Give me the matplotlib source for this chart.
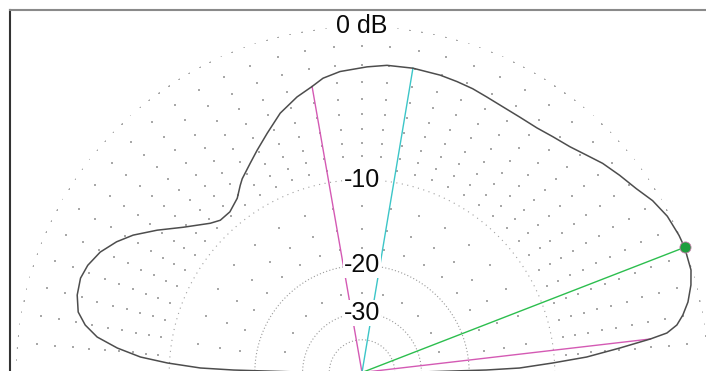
import numpy as np
import matplotlib.pyplot as plt

plt.rcParams['font.family'] = ['Liberation Sans', 'DejaVu Sans']

# elevation pattern: angle (deg) and gain (dB rel. max)
elev = [0, 0.5, 1.15, 1.63, 2.85, 3.94, 5.42, 6.63, 7.38, 8.58, 10.16, 12.2,
        14.9, 17.3, 21.2, 23.4, 27.1, 30.6, 33.84, 37.43, 41.0, 44.06, 47.35,
        51.0, 54.42, 58.3, 62.06, 65.67, 68.7, 71.9, 75.3, 80.5, 85.35, 89.06,
        94.18, 97.54, 99.9, 103.26, 107.5, 111.6, 115.26, 118.1, 121.73,
        123.05, 125.6, 129.43, 132.95, 135.47, 140.9, 145.2, 149.02, 151.96,
        155.3, 158.65, 161.47, 164.79, 167.97, 170.27, 172.37, 174.29, 176.0,
        177.2, 178.4, 178.9, 179.5, 180]
gain = [-99, -30, -17.47, -13.44, -10.18, -7.35, -4.96, -3.0, -2.02, -1.42,
        -1.02, -0.63, -0.28, -0.07, 0.0, -0.03, -0.15, -0.42, -0.80, -1.10,
        -1.40, -1.74, -2.05, -2.25, -2.40, -2.43, -2.40, -2.30, -2.18, -2.10,
        -2.02, -1.96, -1.98, -2.12, -2.34, -2.62, -3.0, -3.43, -4.12, -5.06,
        -5.85, -6.45, -7.15, -7.49, -8.19, -8.70, -8.70, -8.31, -6.96, -5.60,
        -4.44, -3.74, -3.13, -2.76, -2.62, -2.72, -3.01, -3.57, -4.42, -5.84,
        -7.58, -9.82, -13.0, -16.93, -28, -99]

max_elev, max_gain = 21.2, 0.0          # green cursor / max gain
bw_elev = [6.63, 99.9]                  # -3 dB beamwidth points
bw_gain = [-3.0, -3.0]
cur_elev, cur_gain = 80.5, -1.96        # cyan line

ring_text = ['0 dB', '-10', '-20', '-30']
ring_db = [0, -10, -20, -30]

R_MIN = -100


def arrl(db):
    # ARRL log scale: 0.89 per 2 dB
    return 0.89 ** (-np.asarray(db, dtype=float) / 2)


def arrl_inv(r):
    r = np.clip(np.asarray(r, dtype=float), 1e-12, None)
    return -2 * np.log(r) / np.log(0.89)


W, H = 706, 371
fig = plt.figure(figsize=(W / 100, H / 100), dpi=100)

# frame (only left and top edges are visible in the crop)
frame = fig.add_axes([10 / W, 0, 1 - 10 / W, 1 - 10 / H])
frame.set_xticks([])
frame.set_yticks([])
frame.spines['right'].set_visible(False)
frame.spines['bottom'].set_visible(False)
frame.spines['left'].set_color('#333333')
frame.spines['left'].set_linewidth(1.5)
frame.spines['top'].set_color('#8a8a8a')
frame.spines['top'].set_linewidth(1.5)

# polar plot, centre sits on the bottom edge of the picture
rad = 346
cx, cy = 362, -1.5
ax = fig.add_axes([(cx - rad) / W, (cy - rad) / H, 2 * rad / W, 2 * rad / H],
                  projection='polar')
ax.set_rscale('function', functions=(arrl, arrl_inv))
ax.set_rlim(R_MIN, 0)
ax.grid(False)
ax.set_xticks([])
ax.set_yticks([])
ax.spines['polar'].set_visible(False)
ax.patch.set_visible(False)

# grid: sparse dots on the rings, denser dotted rings at -10/-20/-30/-40
dot = dict(s=1.2, c='#a8a8a8', marker='s', linewidths=0, zorder=1)
th2 = np.deg2rad(np.arange(0, 181, 2))
ax.scatter(th2, np.zeros(th2.shape), **dot)
th5 = np.deg2rad(np.arange(0, 181, 5))
for lev in range(-1, -10, -1):
    ax.scatter(th5, np.full(th5.shape, lev), **dot)
th10 = np.deg2rad(np.arange(0, 181, 10))
for lev in [-12.5, -15, -17.5]:
    ax.scatter(th10, np.full(th10.shape, lev), **dot)
th15 = np.deg2rad(np.arange(0, 181, 15))
for lev in [-25]:
    ax.scatter(th15, np.full(th15.shape, lev), **dot)

arc = np.linspace(0, np.pi, 400)
ax.plot(arc, np.full(arc.shape, -10), color='#a0a0a0', lw=0.8,
        linestyle=(0, (1, 4)), zorder=1)
for lev in [-20, -30, -40]:
    ax.plot(arc, np.full(arc.shape, lev), color='#9a9a9a', lw=0.8,
            linestyle=(0, (1, 2)), zorder=1)

# pattern
ax.plot(np.deg2rad(elev), gain, color='#4d4d4d', lw=1.1, zorder=3,
        clip_on=False)

# cursor lines
for e, g in zip(bw_elev, bw_gain):
    ax.plot([np.deg2rad(e)] * 2, [R_MIN, g], color='#d45ab4', lw=1.0, zorder=2)
ax.plot([np.deg2rad(cur_elev)] * 2, [R_MIN, cur_gain], color='#3cc6c8',
        lw=1.0, zorder=2)
ax.plot([np.deg2rad(max_elev)] * 2, [R_MIN, max_gain], color='#2cbe4e',
        lw=1.0, zorder=2, clip_on=False)
ax.plot(np.deg2rad(max_elev), max_gain, 'o', ms=8, color='#1f9e3e',
        mec='#c47aa8', mew=0.6, zorder=4, clip_on=False)

for txt, lev in zip(ring_text, ring_db):
    ax.text(np.pi / 2, lev, txt, ha='center', va='center', fontsize=18,
            color='#0a0a0a', zorder=5,
            bbox=dict(fc='white', ec='none', pad=0.5))

fig.savefig('out.png', dpi=100)
